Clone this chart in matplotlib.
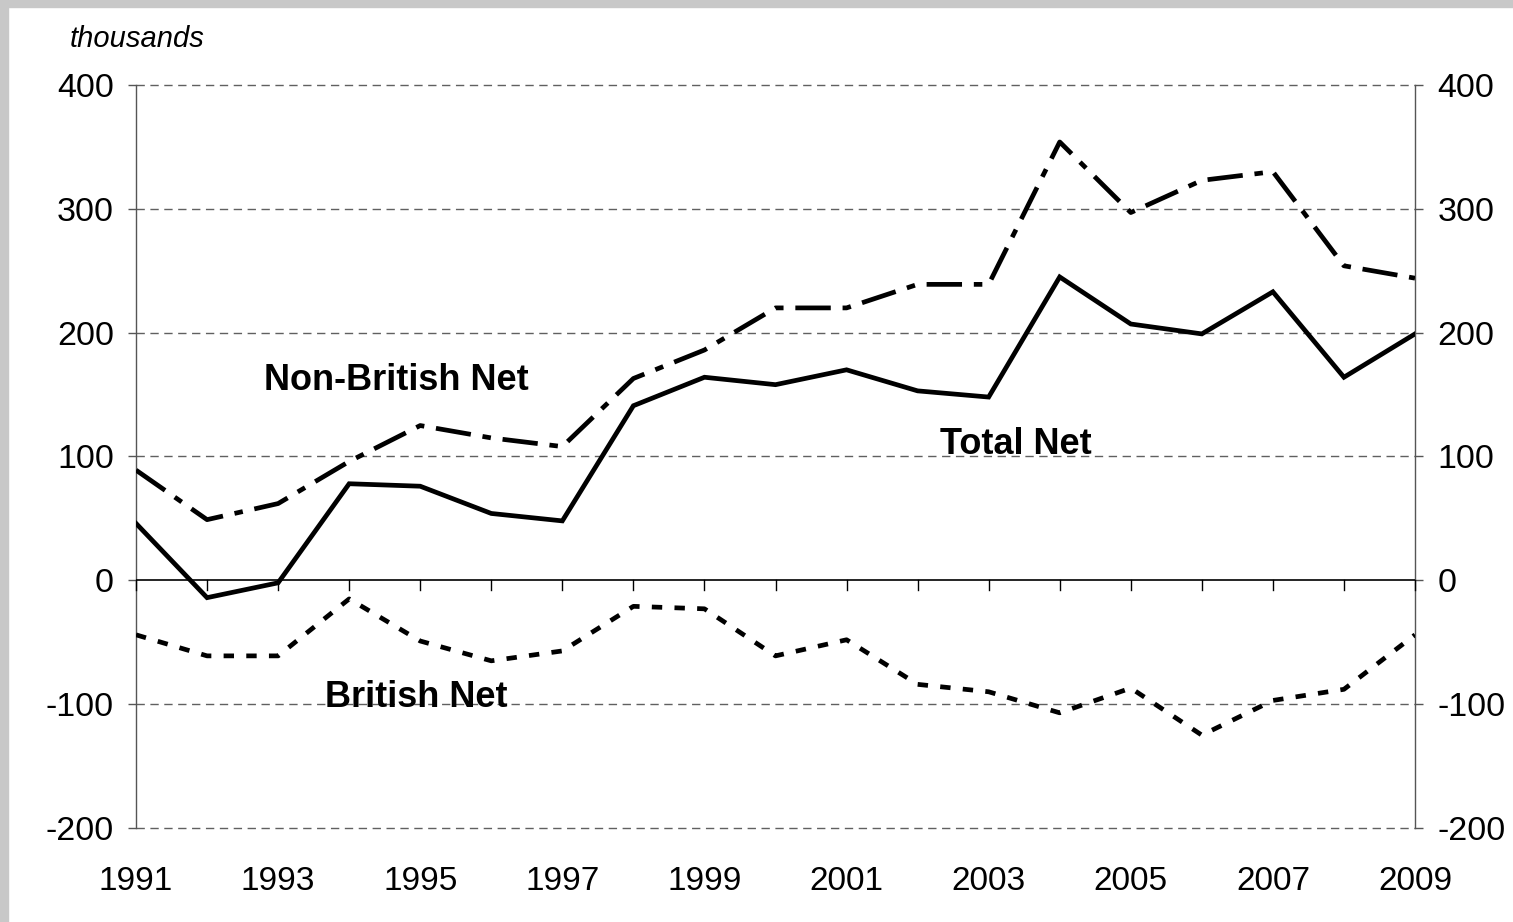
import matplotlib
matplotlib.use("Agg")
import matplotlib.pyplot as plt
import numpy as np

plt.rcParams['font.family'] = ['Liberation Sans', 'DejaVu Sans']
plt.rcParams['axes.unicode_minus'] = False

years = list(range(1991, 2010))
total_net = [46, -14, -2, 78, 76, 54, 48, 141, 164, 158, 170, 153, 148, 245, 207, 199, 233, 164, 199]
non_british_net = [89, 49, 62, 96, 125, 115, 108, 163, 186, 220, 220, 239, 239, 354, 297, 323, 330, 254, 244]
british_net = [-44, -61, -61, -15, -49, -65, -57, -21, -23, -61, -48, -84, -90, -107, -87, -125, -97, -88, -44]
y_ticks = [-200, -100, 0, 100, 200, 300, 400]
x_labels = list(range(1991, 2010, 2))

fig = plt.figure(figsize=(15.13, 9.22), dpi=100)
fig.patch.set_facecolor("white")
# grey frame at top and left like the original screenshot
fig.patches.append(plt.Rectangle((0, 1 - 7 / 922), 1, 7 / 922, transform=fig.transFigure,
                                 color="#c8c8c8", zorder=0))
fig.patches.append(plt.Rectangle((0, 0), 8 / 1513, 1, transform=fig.transFigure,
                                 color="#c8c8c8", zorder=0))

ax = fig.add_axes([136 / 1513, 1 - 828 / 922, (1415 - 136) / 1513, (828 - 85) / 922])
ax.set_xlim(1991, 2009)
ax.set_ylim(-200, 400)

ax.plot(years, total_net, color="black", lw=3.4, solid_joinstyle="miter", zorder=5)
ax.plot(years, non_british_net, color="black", lw=3.4, dashes=(7.5, 2.5, 1.8, 2.5), zorder=5)
ax.plot(years, british_net, color="black", lw=3.4, dashes=(2.2, 2.6), zorder=5)

# horizontal grid
for v in y_ticks:
    if v != 0:
        ax.axhline(v, color="#606060", lw=1.0, ls=(0, (6, 4)), zorder=1, clip_on=False)

for s in ["top", "bottom"]:
    ax.spines[s].set_visible(False)
for s in ["left", "right"]:
    ax.spines[s].set_color("#555555")
    ax.spines[s].set_linewidth(1.0)

ax.set_yticks(y_ticks)
ax.tick_params(axis="y", direction="out", length=6, width=1, color="#555555",
               labelsize=24.5, pad=10, left=True, right=True, labelright=True)

# x axis line at zero with yearly tick marks
ax.axhline(0, color="black", lw=1.2, zorder=3)
for yr in years:
    ax.plot([yr, yr], [0, -8], color="black", lw=1.0, zorder=3, clip_on=False)
ax.set_xticks(x_labels)
ax.tick_params(axis="x", length=0, labelsize=24, pad=27)

ax.text(-0.052, 1.043, "thousands", transform=ax.transAxes, fontsize=21,
        style="italic", ha="left", va="bottom")

ax.text(1994.66, 161, "Non-British Net", fontsize=26, fontweight="bold", ha="center", va="center")
ax.text(2003.38, 110, "Total Net", fontsize=26, fontweight="bold", ha="center", va="center")
ax.text(1994.95, -95, "British Net", fontsize=26, fontweight="bold", ha="center", va="center")

fig.savefig("out.png", dpi=100)
